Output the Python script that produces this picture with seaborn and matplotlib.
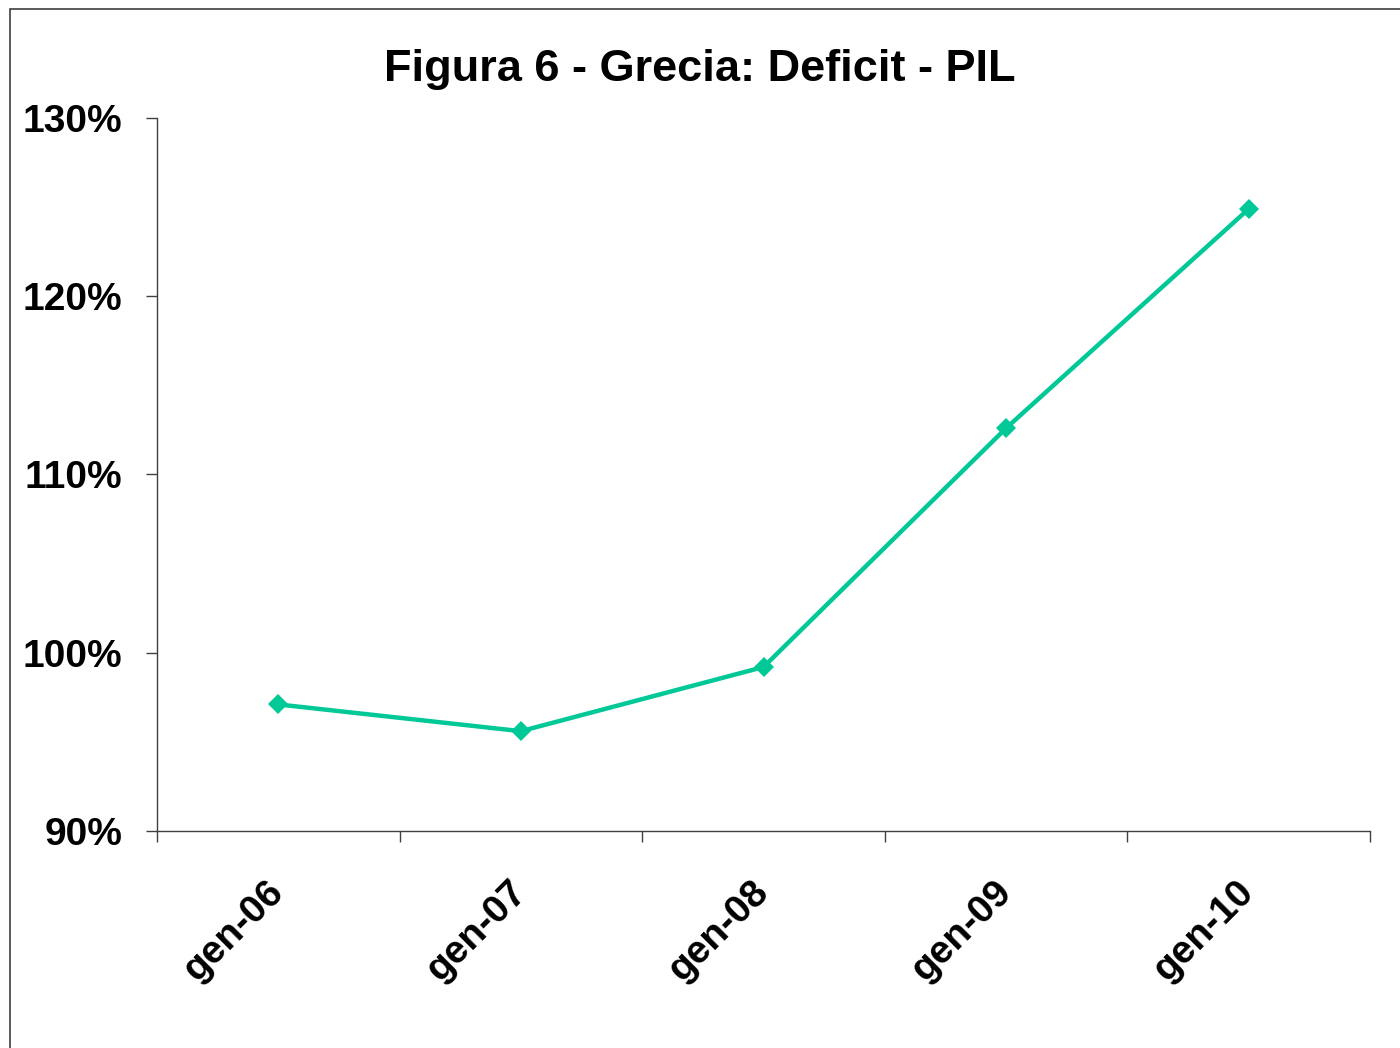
import matplotlib
matplotlib.use("Agg")
import matplotlib.pyplot as plt
import seaborn as sns
import pandas as pd
from matplotlib.ticker import PercentFormatter, FixedLocator, NullFormatter
from matplotlib.patches import Rectangle

# data
periods = ["gen-06", "gen-07", "gen-08", "gen-09", "gen-10"]
deficit_pil = [0.971, 0.956, 0.992, 1.126, 1.249]

df = pd.DataFrame({"period": periods, "value": deficit_pil})

sns.set_theme(style="white")
plt.rcParams["font.family"] = ["Liberation Sans", "DejaVu Sans"]
plt.rcParams["text.color"] = "black"
plt.rcParams["xtick.color"] = "black"
plt.rcParams["ytick.color"] = "black"

fig = plt.figure(figsize=(14, 10.48), dpi=100)
ax = fig.add_axes([157 / 1400, 1 - 831 / 1048, (1370 - 157) / 1400, (831 - 118) / 1048])

sns.lineplot(data=df, x="period", y="value", ax=ax, color="#00C896",
             linewidth=3.2, marker="D", markersize=10, markeredgewidth=0)

ax.set_xlim(-0.5, len(periods) - 0.5)
ax.set_ylim(0.9, 1.3)
ax.set_yticks([0.9, 1.0, 1.1, 1.2, 1.3])
ax.yaxis.set_major_formatter(PercentFormatter(1.0, decimals=0))

# category boundaries carry the tick marks, centres carry the labels
ax.xaxis.set_major_locator(FixedLocator([i - 0.5 for i in range(len(periods) + 1)]))
ax.xaxis.set_major_formatter(NullFormatter())
ax.xaxis.set_minor_locator(FixedLocator(list(range(len(periods)))))
ax.set_xticklabels(periods, minor=True)
ax.tick_params(axis="x", which="major", direction="out", length=8, width=1, color="#404040", bottom=True)
ax.tick_params(axis="x", which="minor", length=0, pad=40)
ax.tick_params(axis="y", direction="out", length=8, width=1, color="#404040", left=True, pad=17)

for lab in ax.get_xticklabels(minor=True):
    lab.set_rotation(45)
    lab.set_ha("right")
    lab.set_va("center")
    lab.set_rotation_mode("anchor")
    lab.set_fontsize(28)
    lab.set_fontweight("bold")
    lab.set_color("black")
for lab in ax.get_yticklabels():
    lab.set_fontsize(28)
    lab.set_fontweight("bold")
    lab.set_color("black")

for side in ["top", "right"]:
    ax.spines[side].set_visible(False)
for side in ["left", "bottom"]:
    ax.spines[side].set_color("#404040")
    ax.spines[side].set_linewidth(1)

ax.set_xlabel("")
ax.set_ylabel("")

fig.text(0.5, 1 - 70 / 1048, "Figura 6 - Grecia: Deficit - PIL", ha="center", va="center",
         fontsize=32.5, fontweight="bold", color="black")

# outer frame of the chart area
fig.patches.append(Rectangle((10 / 1400, -0.1), 1.2, 1.1 - 9 / 1048, transform=fig.transFigure,
                             fill=False, edgecolor="#404040", linewidth=1.2, clip_on=False))

fig.savefig("out.png", dpi=100)
